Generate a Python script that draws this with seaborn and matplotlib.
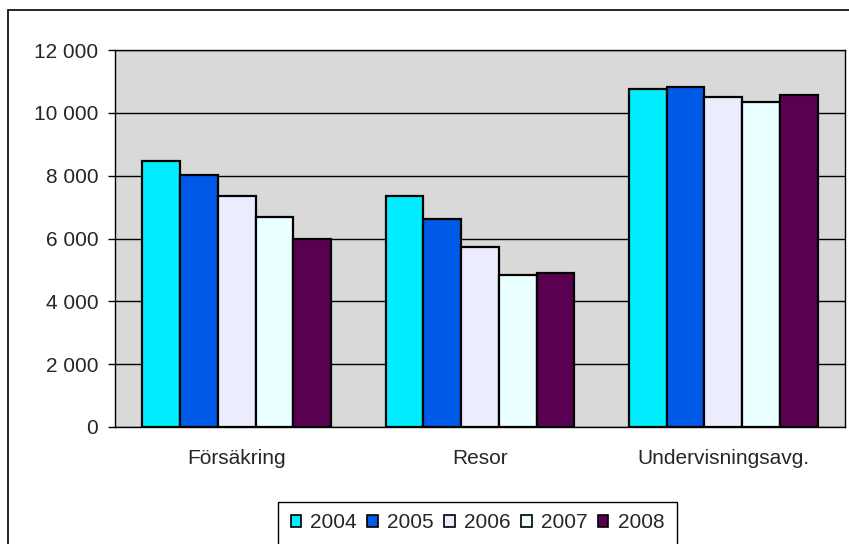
import pandas as pd
import seaborn as sns
import matplotlib
matplotlib.use("Agg")
import matplotlib.pyplot as plt
from matplotlib.patches import Rectangle, Patch
from matplotlib.ticker import FuncFormatter, FixedLocator

# --- DATA ---
categories = ["Försäkring", "Resor", "Undervisningsavg."]
years = ["2004", "2005", "2006", "2007", "2008"]
values_2004 = [8480, 7340, 10760]
values_2005 = [8020, 6630, 10820]
values_2006 = [7340, 5740, 10500]
values_2007 = [6680, 4840, 10330]
values_2008 = [6000, 4910, 10570]
colors = ["#00EEFF", "#005AE8", "#ECECFF", "#EAFFFF", "#5A0050"]

series = [values_2004, values_2005, values_2006, values_2007, values_2008]
rows = []
for year, vals in zip(years, series):
    for cat, v in zip(categories, vals):
        rows.append({"category": cat, "year": year, "value": v})
df = pd.DataFrame(rows)

# --- STYLE ---
sns.set_style("white")
plt.rcParams['font.family'] = ['Liberation Sans', 'DejaVu Sans']
FS = 15

fig = plt.figure(figsize=(8.49, 5.44), dpi=100)
ax = fig.add_axes([115 / 849, 1 - 427 / 544, 730 / 849, 377 / 544])
ax.set_facecolor("#D9D9D9")

sns.barplot(data=df, x="category", y="value", hue="year", palette=colors,
            width=0.775, edgecolor="black", linewidth=1.6, saturation=1,
            legend=False, ax=ax, zorder=3)

ax.set_xlim(-0.5, 2.5)
ax.set_ylim(0, 12000)
ax.set_yticks(range(0, 12001, 2000))
ax.yaxis.set_major_formatter(FuncFormatter(lambda v, p: f"{int(v):,}".replace(",", " ")))
ax.grid(axis="y", color="black", linewidth=1, zorder=0)
ax.set_axisbelow(True)
ax.set_xlabel("")
ax.set_ylabel("")

# category boundary ticks
ax.xaxis.set_minor_locator(FixedLocator([-0.5, 0.5, 1.5, 2.5]))
ax.tick_params(axis="x", which="major", length=0, pad=16, labelsize=FS)
ax.tick_params(axis="x", which="minor", length=5, width=1, color="black", direction="out")
ax.tick_params(axis="y", which="major", length=5, width=1, color="black", pad=7,
               labelsize=FS, left=True)

for s in ax.spines.values():
    s.set_visible(True)
    s.set_color("black")
    s.set_linewidth(1)

# --- LEGEND ---
handles = [Patch(facecolor=c, edgecolor="black", linewidth=1.2, label=y)
           for c, y in zip(colors, years)]
fig.legend(handles=handles, loc="center", bbox_to_anchor=(477.5 / 849, (544 - 523) / 544),
           ncol=5, frameon=False, fontsize=FS, handlelength=0.5, handleheight=0.5,
           handletextpad=0.45, columnspacing=0.5)
fig.patches.append(Rectangle((278 / 849, -0.2), 399 / 849, 0.2 + (544 - 502) / 544,
                             transform=fig.transFigure, fill=False,
                             edgecolor="black", linewidth=1))

# outer chart frame
fig.patches.append(Rectangle((8 / 849, -0.2), 1.2, 0.2 + (544 - 10) / 544,
                             transform=fig.transFigure, fill=False,
                             edgecolor="black", linewidth=1.2))

fig.savefig("out.png", dpi=100)
